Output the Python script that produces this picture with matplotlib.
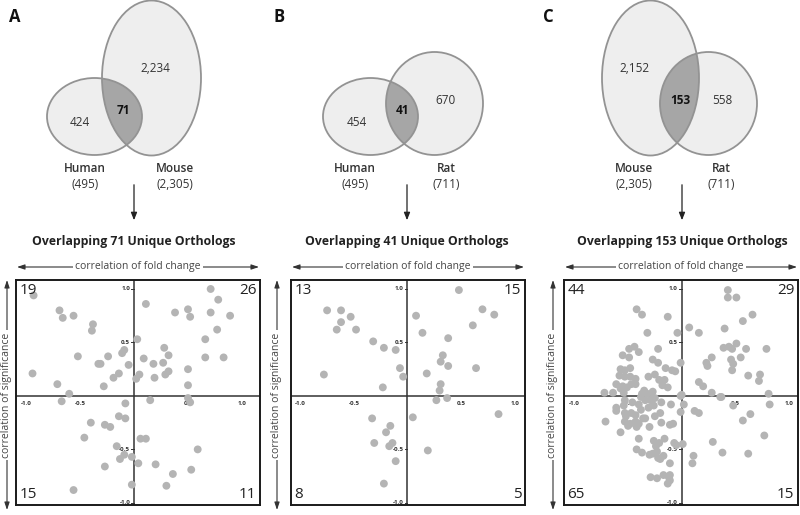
"""
Ortholog overlap Venn diagrams + fold-change / significance correlation scatter
"""
import matplotlib
matplotlib.use("Agg")
import matplotlib.pyplot as plt
from matplotlib.patches import Ellipse

plt.rcParams['font.family'] = ['Open Sans', 'DejaVu Sans']

# Venn counts: (left only, overlap, right only), set names and totals
venn_names = [("Human", "Mouse"), ("Human", "Rat"), ("Mouse", "Rat")]
venn_totals = [("(495)", "(2,305)"), ("(495)", "(711)"), ("(2,305)", "(711)")]
venn_counts = [("424", "71", "2,234"), ("454", "41", "670"), ("2,152", "153", "558")]
panel_letters = ["A", "B", "C"]
titles = ["Overlapping 71 Unique Orthologs",
          "Overlapping 41 Unique Orthologs",
          "Overlapping 153 Unique Orthologs"]

# quadrant counts: upper-left, upper-right, lower-left, lower-right
quad_counts = [(19, 26, 15, 11), (13, 15, 8, 5), (44, 29, 65, 15)]

tick_vals = [-1.0, -0.5, 0.5, 1.0]
tick_text = ["-1.0", "-0.5", "0.5", "1.0"]

# A: human vs mouse
a_x = [-0.93, -0.69, -0.66, -0.56, -0.38, -0.39, -0.94, -0.52, -0.24, -0.31,
       -0.11, -0.09, -0.05, -0.14, -0.19, -0.28, -0.71, -0.60, -0.33,
       0.11, 0.03, 0.38, 0.50, 0.52, 0.71, 0.78, 0.71, 0.89, 0.77,
       0.66, 0.66, 0.83, 0.28, 0.32, 0.09, 0.18, 0.27, 0.05, 0.02,
       0.19, 0.29, 0.32, 0.50, 0.50, 0.50,
       -0.67, -0.08, -0.14, -0.08, -0.40, -0.27, -0.22, -0.46, -0.16, -0.09,
       -0.13, -0.02, -0.27, -0.56, -0.02,
       0.15, 0.52, 0.06, 0.11, 0.59, 0.04, 0.20, 0.53, 0.36, 0.30]
a_y = [0.94, 0.80, 0.73, 0.75, 0.67, 0.61, 0.21, 0.37, 0.37, 0.30,
       0.40, 0.43, 0.29, 0.21, 0.17, 0.09, 0.11, 0.02, 0.30,
       0.86, 0.53, 0.78, 0.81, 0.74, 1.00, 0.90, 0.78, 0.75, 0.62,
       0.53, 0.36, 0.36, 0.45, 0.38, 0.35, 0.30, 0.31, 0.20, 0.16,
       0.17, 0.20, 0.23, 0.25, 0.10, -0.02,
       -0.05, -0.07, -0.19, -0.21, -0.25, -0.27, -0.29, -0.39, -0.47, -0.55,
       -0.59, -0.57, -0.66, -0.88, -0.83,
       -0.04, -0.06, -0.40, -0.40, -0.50, -0.63, -0.64, -0.69, -0.73, -0.84]

# B: human vs rat
b_x = [-0.75, -0.62, -0.62, -0.66, -0.53, -0.48, -0.32, -0.22, -0.11, -0.07,
       -0.04, -0.78, -0.23,
       0.48, 0.08, 0.70, 0.81, 0.61, 0.14, 0.38, 0.33, 0.31, 0.38,
       0.64, 0.18, 0.31, 0.30,
       -0.33, -0.16, -0.20, -0.31, -0.14, -0.17, -0.11, -0.22,
       0.27, 0.05, 0.85, 0.19, 0.37]
b_y = [0.80, 0.80, 0.69, 0.62, 0.74, 0.62, 0.51, 0.45, 0.43, 0.26,
       0.18, 0.20, 0.08,
       0.99, 0.75, 0.81, 0.76, 0.66, 0.59, 0.54, 0.38, 0.32, 0.28,
       0.26, 0.21, 0.11, 0.05,
       -0.21, -0.28, -0.34, -0.44, -0.44, -0.47, -0.61, -0.82,
       -0.04, -0.20, -0.17, -0.51, -0.02]

# C: mouse vs rat
c_x = [0.43, 0.43, 0.51, 0.66, 0.57, 0.40, 0.07, 0.16, 0.39, 0.44,
       0.47, 0.51, 0.60, 0.79, 0.28, 0.23, 0.24, 0.46, 0.48, 0.47,
       0.55, 0.62, 0.73, 0.72, 0.16, 0.20, 0.28, 0.37, 0.81, 0.00,
       -0.42, -0.37, -0.13, -0.32, -0.04, -0.44, -0.49, -0.40, -0.55, -0.49,
       -0.22, -0.27, -0.22, -0.01, -0.15, -0.09, -0.06, -0.57, -0.48, -0.53,
       -0.58, -0.53, -0.48, -0.43, -0.31, -0.25, -0.21, -0.16, -0.61, -0.55,
       -0.47, -0.43, -0.18, -0.13, -0.57, -0.51, -0.35, -0.27, -0.72, -0.64,
       -0.54, -0.37, -0.32,
       -0.27, -0.01, -0.61, -0.61, -0.53, -0.54, -0.46, -0.38, -0.34, -0.29,
       -0.25, -0.19, -0.10, -0.01, -0.53, -0.52, -0.47, -0.40, -0.38, -0.43,
       -0.31, -0.26, -0.20, -0.25, -0.36, -0.71, -0.53, -0.48, -0.43, -0.40,
       -0.34, -0.30, -0.19, -0.11, -0.08, -0.57, -0.50, -0.42, -0.40, -0.26,
       -0.21, -0.16, -0.24, -0.07, -0.05, -0.42, -0.37, -0.30, -0.27, -0.22,
       -0.23, -0.17, -0.11, -0.20, -0.29, -0.23, -0.17, -0.12, -0.11, -0.13,
       -0.11,
       0.02, 0.12, 0.16, 0.48, 0.82, 0.64, 0.57, 0.77, 0.29, 0.38,
       0.62, 0.01, 0.11, 0.10, 0.36]
c_y = [0.99, 0.92, 0.92, 0.76, 0.70, 0.63, 0.64, 0.59, 0.45, 0.46,
       0.44, 0.49, 0.44, 0.44, 0.36, 0.31, 0.28, 0.34, 0.30, 0.24,
       0.36, 0.19, 0.20, 0.14, 0.13, 0.09, 0.03, -0.01, 0.02, 0.01,
       0.81, 0.76, 0.74, 0.59, 0.59, 0.46, 0.44, 0.41, 0.38, 0.36,
       0.44, 0.34, 0.31, 0.31, 0.26, 0.24, 0.23, 0.25, 0.26, 0.24,
       0.19, 0.18, 0.18, 0.16, 0.18, 0.20, 0.15, 0.15, 0.11, 0.09,
       0.11, 0.11, 0.10, 0.08, 0.07, 0.08, 0.05, 0.04, 0.03, 0.03,
       0.03, 0.02, 0.02,
       -0.02, 0.00, -0.11, -0.14, -0.04, -0.09, -0.06, -0.01, -0.04, -0.04,
       -0.02, -0.06, -0.08, -0.15, -0.16, -0.19, -0.16, -0.08, -0.13, -0.18,
       -0.11, -0.09, -0.16, -0.19, -0.21, -0.24, -0.24, -0.26, -0.24, -0.26,
       -0.21, -0.29, -0.25, -0.27, -0.26, -0.34, -0.28, -0.29, -0.40, -0.42,
       -0.44, -0.40, -0.47, -0.44, -0.46, -0.50, -0.53, -0.55, -0.54, -0.58,
       -0.52, -0.56, -0.63, -0.59, -0.76, -0.77, -0.74, -0.76, -0.74, -0.82,
       -0.79,
       -0.08, -0.14, -0.16, -0.09, -0.08, -0.17, -0.23, -0.37, -0.43, -0.53,
       -0.54, -0.45, -0.56, -0.63, -0.01]

scatter_x = [a_x, b_x, c_x]
scatter_y = [a_y, b_y, c_y]

# layout (pixels in an 800 x 515 canvas)
W, H = 800, 515
box_px = [(16, 260), (291, 525), (564, 798)]
box_top, box_bot = 280, 505
xlims = [(-1.093, 1.167), (-1.087, 1.097), (-1.097, 1.084)]
ylim = (-1.02, 1.084)
sig_arrow_x = [7, 277, 553]
# venn ellipses: (cx, cy, w, h) for left and right sets
venn_geom = [((94.5, 116.5, 95, 77), (151.5, 78, 99, 155)),
             ((370.5, 116.5, 95, 77), (434.5, 103.5, 97, 103)),
             ((650.5, 78, 97, 155), (708.5, 103.5, 97, 103))]
venn_label_pos = [((80, 123), (123, 111), (155, 69)),
                  ((357, 123), (402, 111), (446, 100)),
                  ((635, 69), (680, 100), (722, 100))]
name_x = [(85, 175), (355, 446), (634, 721)]
origin_x = [134, 407, 682]
letter_x = [15, 279, 548]

fig = plt.figure(figsize=(W / 100, H / 100), dpi=100)
ov = fig.add_axes([0, 0, 1, 1])
ov.set_xlim(0, W)
ov.set_ylim(H, 0)
ov.axis("off")

fill_c, edge_c, mid_c, txt_c = "#eeeeee", "#939393", "#a6a6a6", "#333333"

for i in range(3):
    (l_geom, r_geom) = venn_geom[i]
    el = Ellipse((l_geom[0], l_geom[1]), l_geom[2], l_geom[3], fc=fill_c, ec="none", zorder=1)
    er = Ellipse((r_geom[0], r_geom[1]), r_geom[2], r_geom[3], fc=fill_c, ec="none", zorder=1)
    ov.add_patch(el)
    ov.add_patch(er)
    # overlap: right shape filled darker, clipped to the left shape
    clip = Ellipse((l_geom[0], l_geom[1]), l_geom[2], l_geom[3], fc="none", ec="none",
                   transform=ov.transData)
    ov.add_patch(clip)
    mid = Ellipse((r_geom[0], r_geom[1]), r_geom[2], r_geom[3], fc=mid_c, ec="none", zorder=2)
    ov.add_patch(mid)
    mid.set_clip_path(clip)
    for g in (l_geom, r_geom):
        ov.add_patch(Ellipse((g[0], g[1]), g[2], g[3], fc="none", ec=edge_c, lw=1.3, zorder=3))

    left_txt, mid_txt, right_txt = venn_counts[i]
    (lp, mp, rp) = venn_label_pos[i]
    ov.text(lp[0], lp[1], left_txt, ha="center", va="center", fontsize=8.5, color=txt_c, zorder=4)
    ov.text(mp[0], mp[1], mid_txt, ha="center", va="center", fontsize=8.5, color="#111111",
            fontweight="bold", zorder=4)
    ov.text(rp[0], rp[1], right_txt, ha="center", va="center", fontsize=8.5, color=txt_c, zorder=4)

    for k in range(2):
        ov.text(name_x[i][k], 168, venn_names[i][k], ha="center", va="center",
                fontsize=8.5, color=txt_c, fontweight="semibold")
        ov.text(name_x[i][k], 185, venn_totals[i][k], ha="center", va="center",
                fontsize=8.5, color=txt_c)

    ov.text(letter_x[i], 17, panel_letters[i], ha="center", va="center", fontsize=12,
            fontweight="bold", color="#111111")

    ov.annotate("", xy=(origin_x[i], 223), xytext=(origin_x[i], 182),
                arrowprops=dict(arrowstyle="-|>,head_length=0.45,head_width=0.18",
                                color="#222222", lw=0.9))

    ov.text(origin_x[i], 241, titles[i], ha="center", va="center", fontsize=8.8,
            fontweight="bold", color="#222222")

    # fold change double arrow
    x0, x1 = box_px[i]
    ov.annotate("", xy=(x1 - 1, 267), xytext=(x0 + 1, 267),
                arrowprops=dict(arrowstyle="<|-|>,head_length=0.45,head_width=0.15",
                                color="#333333", lw=0.8, shrinkA=0, shrinkB=0))
    ov.text((x0 + x1) / 2, 267, "correlation of fold change", ha="center", va="center",
            fontsize=7.5, color="#444444",
            bbox=dict(fc="white", ec="none", pad=1.5))

    # significance double arrow
    sx = sig_arrow_x[i]
    ov.annotate("", xy=(sx, 280), xytext=(sx, 510),
                arrowprops=dict(arrowstyle="<|-|>,head_length=0.45,head_width=0.15",
                                color="#333333", lw=0.8, shrinkA=0, shrinkB=0))
    ov.text(sx, 395, "correlation of significance", ha="center", va="center",
            rotation=90, fontsize=7.5, color="#444444",
            bbox=dict(fc="white", ec="none", pad=1.5))

    # scatter box
    ax = fig.add_axes([x0 / W, 1 - box_bot / H, (x1 - x0) / W, (box_bot - box_top) / H])
    ax.set_xlim(*xlims[i])
    ax.set_ylim(*ylim)
    ax.set_xticks([])
    ax.set_yticks([])
    for sp in ax.spines.values():
        sp.set_linewidth(1.4)
        sp.set_color("#1a1a1a")
    ax.axhline(0, color="#333333", lw=1.1, zorder=1)
    ax.axvline(0, color="#333333", lw=1.1, zorder=1)
    for v, t in zip(tick_vals, tick_text):
        ax.text(v, -0.045, t, ha="center", va="top", fontsize=4.5, fontweight="bold",
                color="#333333", zorder=2)
        ax.plot([-0.025, 0], [v, v], color="#333333", lw=0.7, zorder=1)
        ax.text(-0.035, v, t, ha="right", va="center", fontsize=4.5, fontweight="bold",
                color="#333333", zorder=2)
    ax.scatter(scatter_x[i], scatter_y[i], s=32, c="#b4b4b4", edgecolors="none", zorder=3)

    ul, ur, ll, lr = quad_counts[i]
    pad = dict(fontsize=11, color="#222222", zorder=4)
    ax.text(0.015, 0.985, str(ul), ha="left", va="top", transform=ax.transAxes, **pad)
    ax.text(0.985, 0.985, str(ur), ha="right", va="top", transform=ax.transAxes, **pad)
    ax.text(0.015, 0.015, str(ll), ha="left", va="bottom", transform=ax.transAxes, **pad)
    ax.text(0.985, 0.015, str(lr), ha="right", va="bottom", transform=ax.transAxes, **pad)

fig.savefig("out.png", dpi=100)
